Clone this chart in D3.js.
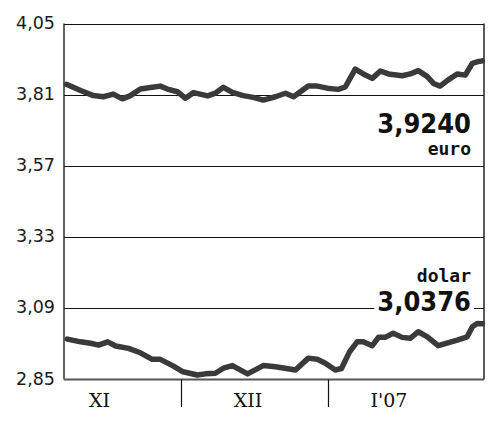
<!DOCTYPE html>
<html><head><meta charset="utf-8">
<script src="https://cdn.jsdelivr.net/npm/d3@7"></script>
<style>
html,body{margin:0;padding:0;background:#fff;}
svg{display:block;}
</style>
</head><body>
<svg id="chart" width="500" height="424"></svg>
<script>
// ---- data (x = day number counted from 31 Oct 2006; 30 = 1 Dec, 61 = 1 Jan) ----
const euroDays = [5.9,8.9,11.6,13.7,15.8,17.7,19.4,21.5,23.6,25.7,27.2,29.3,31.0,32.7,35.7,37.3,39.0,40.9,43.2,45.3,47.4,50.0,52.1,53.8,56.9,58.8,60.9,63.2,64.7,66.8,68.5,70.4,72.1,73.8,76.7,78.4,80.1,82.0,83.3,84.7,86.4,88.3,90.0,91.5,92.5,93.6];
const euroValues = [3.845,3.824,3.807,3.803,3.812,3.796,3.807,3.829,3.834,3.839,3.829,3.820,3.798,3.817,3.806,3.815,3.835,3.818,3.807,3.801,3.792,3.803,3.815,3.803,3.839,3.839,3.832,3.828,3.836,3.896,3.880,3.865,3.890,3.880,3.874,3.880,3.891,3.871,3.848,3.839,3.860,3.880,3.876,3.916,3.921,3.924];
const dollarDays = [6.1,8.9,11.0,12.7,14.6,16.3,19.0,21.5,24.0,25.7,28.4,30.5,33.5,35.2,37.3,39.0,40.9,44.1,47.4,50.0,54.2,56.9,58.8,60.5,62.6,63.9,65.6,67.2,68.5,70.4,71.7,73.1,74.8,76.7,78.4,80.1,82.0,84.3,88.3,90.4,91.5,92.5,93.6];
const dollarValues = [2.986,2.977,2.972,2.966,2.977,2.963,2.955,2.940,2.918,2.918,2.896,2.876,2.865,2.869,2.871,2.888,2.897,2.869,2.897,2.893,2.882,2.922,2.918,2.905,2.882,2.887,2.943,2.977,2.977,2.964,2.992,2.992,3.006,2.992,2.989,3.011,2.994,2.964,2.983,2.994,3.028,3.039,3.0376];
const yTicks = [2.85,3.09,3.33,3.57,3.81,4.05];
const monthBounds = [30,61];
const monthLabels = ["XI","XII","I'07"];
const monthLabelDays = [12.9,44.2,73.9];
const seriesLabels = ["euro","dolar"];
const lastLabels = ["3,9240","3,0376"];

// ---- layout ----
const svg = d3.select("#chart");
const L = 64, R = 484, T = 23.5, B = 379.5;
const x = d3.scaleLinear().domain([5.4, 93.95]).range([L, R]);
const y = d3.scaleLinear().domain([2.85, 4.05]).range([B, T]);
const fmt = v => d3.format(".2f")(v).replace(".", ",");

// grid lines
svg.append("g").selectAll("line").data(yTicks.filter(v => v > 2.85)).join("line")
  .attr("x1", L).attr("x2", R)
  .attr("y1", d => Math.round(y(d)) + 0.5).attr("y2", d => Math.round(y(d)) + 0.5)
  .attr("stroke", "#111").attr("stroke-width", 1.2);

// y tick labels
svg.append("g").selectAll("text").data(yTicks).join("text")
  .attr("x", 55).attr("y", d => y(d) + 5)
  .attr("text-anchor", "end")
  .attr("font-family", "DejaVu Sans").attr("font-size", 17.5).attr("fill", "#1a1a1a")
  .text(fmt);

// frame
svg.append("line").attr("x1", L).attr("x2", L).attr("y1", T).attr("y2", B).attr("stroke", "#111").attr("stroke-width", 1.3);
svg.append("line").attr("x1", R).attr("x2", R).attr("y1", T).attr("y2", B).attr("stroke", "#222").attr("stroke-width", 1.5);
svg.append("line").attr("x1", L).attr("x2", R).attr("y1", B).attr("y2", B).attr("stroke", "#555").attr("stroke-width", 2);

// month separators and labels
svg.append("g").selectAll("line").data(monthBounds).join("line")
  .attr("x1", d => Math.round(x(d)) + 0.5).attr("x2", d => Math.round(x(d)) + 0.5)
  .attr("y1", B).attr("y2", 407).attr("stroke", "#111").attr("stroke-width", 1.2);
svg.append("g").selectAll("text").data(monthLabels).join("text")
  .attr("x", (d, i) => x(monthLabelDays[i])).attr("y", 407)
  .attr("text-anchor", "middle")
  .attr("font-family", "DejaVu Serif").attr("font-size", 19).attr("fill", "#111")
  .text(d => d);

// lines
const line = d3.line().x(d => x(d[0])).y(d => y(d[1])).curve(d3.curveLinear);
const series = [d3.zip(euroDays, euroValues), d3.zip(dollarDays, dollarValues)];
svg.append("g").selectAll("path").data(series).join("path")
  .attr("d", line).attr("fill", "none")
  .attr("stroke", "#3a3a3a").attr("stroke-width", 5.5)
  .attr("stroke-linejoin", "round").attr("stroke-linecap", "round");

// labels
const lblX = 471;
// euro
svg.append("text").attr("x", lblX).attr("y", 133).attr("text-anchor", "end")
  .attr("font-family", "DejaVu Sans Condensed").attr("font-weight", "bold").attr("font-size", 27).attr("fill", "#111")
  .text(lastLabels[0]);
svg.append("text").attr("x", lblX).attr("y", 155).attr("text-anchor", "end")
  .attr("font-family", "DejaVu Sans Mono").attr("font-weight", "bold").attr("font-size", 18).attr("fill", "#111")
  .text(seriesLabels[0]);
// dollar
svg.append("text").attr("x", lblX).attr("y", 282).attr("text-anchor", "end")
  .attr("font-family", "DejaVu Sans Mono").attr("font-weight", "bold").attr("font-size", 18).attr("fill", "#111")
  .text(seriesLabels[1]);
const dv = svg.append("g");
const dt = dv.append("text").attr("x", lblX).attr("y", 311).attr("text-anchor", "end")
  .attr("font-family", "DejaVu Sans Condensed").attr("font-weight", "bold").attr("font-size", 27).attr("fill", "#111")
  .text(lastLabels[1]);
const bb = dt.node().getBBox();
dv.insert("rect", "text").attr("x", bb.x - 3).attr("y", bb.y + 2).attr("width", bb.width + 6).attr("height", bb.height - 4).attr("fill", "#fff");
</script>
</body></html>
